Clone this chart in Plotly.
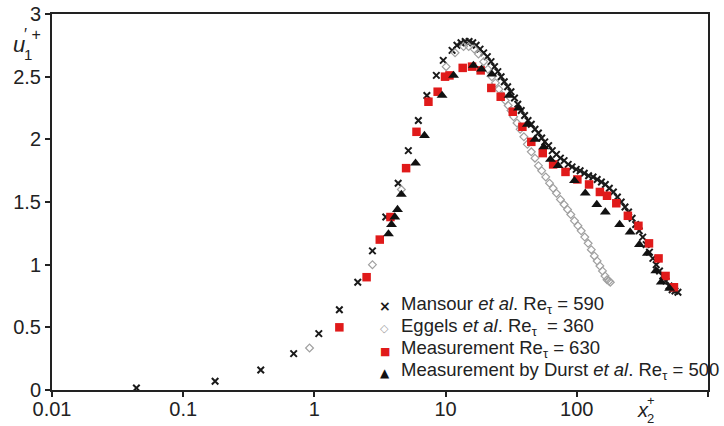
import plotly.graph_objects as go

# Mansour et al. Re_tau = 590 (DNS)
mansour_x = [0.044, 0.175, 0.39, 0.695, 1.08, 1.55, 2.14, 2.77, 3.5, 4.35, 5.2, 6.2, 7.2, 8.5, 9.6,
             11.2, 12.2, 13.1, 14.1, 15.1, 16.1, 17.1, 18.3, 19.5, 20.8, 22.2, 23.6, 25, 26.5, 28,
             29.7, 31.5, 33.5, 35.5, 37.7, 40, 42.5, 45, 48, 51, 54, 57, 61, 65, 70, 75, 80, 86,
             92, 99, 106, 114, 123, 133, 143, 154, 165, 177, 190, 204, 218, 233, 248, 264, 281,
             299, 318, 338, 358, 380, 403, 427, 452, 478, 505, 533, 560, 590]
mansour_y = [0.016, 0.07, 0.16, 0.29, 0.45, 0.64, 0.86, 1.11, 1.38, 1.65, 1.91, 2.15, 2.35, 2.51, 2.63,
             2.71, 2.75, 2.77, 2.78, 2.78, 2.77, 2.75, 2.72, 2.69, 2.66, 2.62, 2.58, 2.54, 2.50, 2.46,
             2.42, 2.38, 2.33, 2.28, 2.23, 2.19, 2.15, 2.12, 2.08, 2.05, 2.01, 1.98, 1.95, 1.91, 1.88,
             1.85, 1.83, 1.80, 1.78, 1.76, 1.75, 1.73, 1.71, 1.70, 1.68, 1.66, 1.64, 1.61, 1.58, 1.54,
             1.50, 1.46, 1.42, 1.37, 1.32, 1.27, 1.22, 1.16, 1.10, 1.05, 1.00, 0.95, 0.91, 0.87, 0.83,
             0.80, 0.79, 0.78]

# Eggels et al. Re_tau = 360
eggels_x = [0.918, 2.77, 4.6, 10.1, 11.8, 13.7, 15, 16.5, 17.8, 19.5, 21, 22.5, 24, 25.5, 27, 28.5,
            30, 31.5, 33, 35, 37, 39.5, 42, 45, 48, 51, 54, 58, 62, 66, 70, 75, 80, 85, 90, 96, 102,
            108, 115, 122, 129, 136, 143, 150, 157, 164, 170, 176, 180]
eggels_y = [0.335, 1.0, 1.6, 2.58, 2.69, 2.74, 2.74, 2.72, 2.68, 2.62, 2.56, 2.50, 2.45, 2.40, 2.35,
            2.31, 2.27, 2.23, 2.18, 2.13, 2.08, 2.02, 1.96, 1.90, 1.85, 1.79, 1.75, 1.70, 1.65, 1.61,
            1.57, 1.52, 1.48, 1.44, 1.40, 1.35, 1.31, 1.27, 1.22, 1.17, 1.12, 1.07, 1.03, 0.99, 0.95,
            0.91, 0.88, 0.87, 0.86]

# Measurement Re_tau = 630
meas_x = [1.55, 2.5, 3.15, 3.8, 5.0, 6.0, 7.4, 8.7, 9.9, 10.7, 13.5, 15.9, 18.5, 22.3, 26.3, 32.5,
          38.5, 45, 55, 66, 82, 101, 124, 150, 170, 200, 245, 295, 355, 420, 475, 550]
meas_y = [0.50, 0.90, 1.20, 1.38, 1.77, 2.06, 2.30, 2.38, 2.50, 2.51, 2.57, 2.58, 2.55, 2.41, 2.34,
          2.22, 2.10, 1.98, 1.89, 1.80, 1.74, 1.68, 1.64, 1.58, 1.55, 1.49, 1.39, 1.31, 1.17, 1.05,
          0.91, 0.82]

# Measurement by Durst et al. Re_tau = 500
durst_x = [3.67, 3.87, 4.1, 4.3, 4.6, 5.9, 6.9, 9.4, 11.5, 16.3, 18.8, 22.5, 30.5, 36, 42, 48, 56,
           63, 72, 96, 116, 142, 165, 212, 255, 300, 345, 400, 440, 510]
durst_y = [1.245, 1.32, 1.38, 1.44, 1.56, 1.81, 2.03, 2.35, 2.51, 2.59, 2.56, 2.52, 2.35, 2.25, 2.12,
           2.0, 1.94, 1.84, 1.79, 1.67, 1.57, 1.48, 1.42, 1.32, 1.26, 1.16, 1.09, 0.95, 0.86, 0.81]

x_ticks = [0.01, 0.1, 1, 10, 100, 1000]
x_ticktext = ["0.01", "0.1", "1", "10", "100", "1000"]
y_ticks = [0, 0.5, 1, 1.5, 2, 2.5, 3]
y_ticktext = ["0", "0.5", "1", "1.5", "2", "2.5", "3"]

legend_labels = ["Mansour <i>et al</i>. Re<sub>τ</sub> = 590",
                 "Eggels <i>et al</i>. Re<sub>τ</sub>  = 360",
                 "Measurement Re<sub>τ</sub> = 630",
                 "Measurement by Durst <i>et al</i>. Re<sub>τ</sub> = 500"]

FONT = "Liberation Sans, Arial, sans-serif"
TXT = "#222222"
RED = "#e01a1a"

fig = go.Figure()
fig.add_trace(go.Scatter(
    x=mansour_x, y=mansour_y, mode="markers", name=legend_labels[0],
    marker=dict(symbol="x-thin", size=6.5, line=dict(width=2, color="#1a1a1a"), color="#1a1a1a")))
fig.add_trace(go.Scatter(
    x=eggels_x, y=eggels_y, mode="markers", name=legend_labels[1],
    marker=dict(symbol="diamond-open", size=6, line=dict(width=1.2, color="#a0a0a0"), color="#a0a0a0")))
fig.add_trace(go.Scatter(
    x=meas_x, y=meas_y, mode="markers", name=legend_labels[2],
    marker=dict(symbol="square", size=8.5, color=RED)))
fig.add_trace(go.Scatter(
    x=durst_x, y=durst_y, mode="markers", name=legend_labels[3],
    marker=dict(symbol="triangle-up", size=9.5, color="#111111")))

axis_common = dict(showline=True, linecolor="#222222", linewidth=2, mirror=True,
                   ticks="outside", ticklen=5, tickwidth=1.5, tickcolor="#222222",
                   showgrid=False, zeroline=False, automargin=False,
                   tickfont=dict(family=FONT, size=20, color=TXT))

fig.update_xaxes(type="log", range=[-2, 3], tickvals=x_ticks, ticktext=x_ticktext,
                 ticklabelstandoff=-5, **axis_common)
fig.update_yaxes(range=[0, 3], tickvals=y_ticks, ticktext=y_ticktext, **axis_common)

fig.update_layout(
    width=724, height=426,
    margin=dict(l=52, r=16, t=14, b=36, autoexpand=False),
    paper_bgcolor="white", plot_bgcolor="white",
    font=dict(family=FONT, color=TXT),
    showlegend=False,
)

# legend drawn as text (symbol + label) for exact spacing
def px_x(p):
    return (p - 52) / 656.0

def px_y(p):
    return (390 - p) / 376.0

legend_rows = [305, 327, 349, 371]
legend_syms = [("<b>×</b>", "#1a1a1a", 14, 306), ("◇", "#a0a0a0", 11, 328),
               ("■", RED, 11, 351), ("▲", "#111111", 12, 373)]
for lab, row, (sym, col, sz, sy) in zip(legend_labels, legend_rows, legend_syms):
    fig.add_annotation(xref="paper", yref="paper", x=px_x(385), y=px_y(sy), xanchor="center",
                       yanchor="middle", text=sym, showarrow=False,
                       font=dict(family="DejaVu Sans, Liberation Sans", size=sz, color=col))
    fig.add_annotation(xref="paper", yref="paper", x=px_x(399), y=px_y(row), xanchor="left",
                       yanchor="middle", text=lab, showarrow=False,
                       font=dict(family=FONT, size=18.5, color=TXT))

# axis titles
fig.add_annotation(xref="paper", yref="paper", x=-0.0503, y=0.920, xanchor="center", yanchor="middle",
                   text="<i>u</i>", showarrow=False, font=dict(family=FONT, size=22, color=TXT))
fig.add_annotation(xref="paper", yref="paper", x=-0.029, y=0.946, xanchor="center", yanchor="middle",
                   text="′ +", showarrow=False, font=dict(family=FONT, size=16, color=TXT))
fig.add_annotation(xref="paper", yref="paper", x=-0.036, y=0.892, xanchor="center", yanchor="middle",
                   text="1", showarrow=False, font=dict(family=FONT, size=15, color=TXT))
fig.add_annotation(xref="paper", yref="paper", x=0.901, y=-0.053, xanchor="center", yanchor="middle",
                   text="<i>x</i>", showarrow=False, font=dict(family=FONT, size=20, color=TXT))
fig.add_annotation(xref="paper", yref="paper", x=0.913, y=-0.027, xanchor="center", yanchor="middle",
                   text="+", showarrow=False, font=dict(family=FONT, size=13, color=TXT))
fig.add_annotation(xref="paper", yref="paper", x=0.913, y=-0.076, xanchor="center", yanchor="middle",
                   text="2", showarrow=False, font=dict(family=FONT, size=13, color=TXT))

fig.write_html("out.html", config={"displayModeBar": False},
               post_script="document.body.style.margin='0';")
